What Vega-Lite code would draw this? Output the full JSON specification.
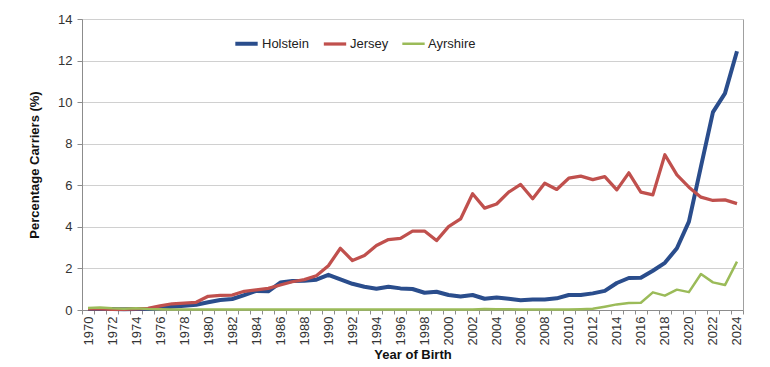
{
  "$schema": "https://vega.github.io/schema/vega-lite/v6.json",
  "autosize": "none",
  "width": 661,
  "height": 291,
  "padding": {"left": 82, "top": 19, "right": 27, "bottom": 57},
  "background": "white",
  "config": {
    "font": "Liberation Sans",
    "view": {"stroke": "#a0a0a0", "strokeWidth": 1},
    "axis": {"labelFont": "Liberation Sans", "titleFont": "Liberation Sans", "labelFontSize": 13, "titleFontSize": 13, "labelColor": "#333333", "titleColor": "#111111", "titleFontWeight": "bold", "domainColor": "#8c8c8c", "tickColor": "#8c8c8c"}
  },
  "data": {
    "values": [
      {"year": 1970, "Holstein": 0.05, "Jersey": 0.05, "Ayrshire": 0.10},
      {"year": 1971, "Holstein": 0.05, "Jersey": 0.05, "Ayrshire": 0.12},
      {"year": 1972, "Holstein": 0.05, "Jersey": 0.03, "Ayrshire": 0.08},
      {"year": 1973, "Holstein": 0.04, "Jersey": 0.03, "Ayrshire": 0.06},
      {"year": 1974, "Holstein": 0.05, "Jersey": 0.06, "Ayrshire": 0.08},
      {"year": 1975, "Holstein": 0.05, "Jersey": 0.08, "Ayrshire": 0.05},
      {"year": 1976, "Holstein": 0.08, "Jersey": 0.20, "Ayrshire": 0.04},
      {"year": 1977, "Holstein": 0.16, "Jersey": 0.30, "Ayrshire": 0.03},
      {"year": 1978, "Holstein": 0.20, "Jersey": 0.33, "Ayrshire": 0.03},
      {"year": 1979, "Holstein": 0.25, "Jersey": 0.37, "Ayrshire": 0.03},
      {"year": 1980, "Holstein": 0.37, "Jersey": 0.66, "Ayrshire": 0.03},
      {"year": 1981, "Holstein": 0.48, "Jersey": 0.70, "Ayrshire": 0.03},
      {"year": 1982, "Holstein": 0.53, "Jersey": 0.72, "Ayrshire": 0.03},
      {"year": 1983, "Holstein": 0.72, "Jersey": 0.90, "Ayrshire": 0.03},
      {"year": 1984, "Holstein": 0.92, "Jersey": 0.97, "Ayrshire": 0.03},
      {"year": 1985, "Holstein": 0.90, "Jersey": 1.04, "Ayrshire": 0.03},
      {"year": 1986, "Holstein": 1.32, "Jersey": 1.20, "Ayrshire": 0.02},
      {"year": 1987, "Holstein": 1.40, "Jersey": 1.36, "Ayrshire": 0.02},
      {"year": 1988, "Holstein": 1.41, "Jersey": 1.46, "Ayrshire": 0.02},
      {"year": 1989, "Holstein": 1.46, "Jersey": 1.65, "Ayrshire": 0.02},
      {"year": 1990, "Holstein": 1.69, "Jersey": 2.13, "Ayrshire": 0.02},
      {"year": 1991, "Holstein": 1.47, "Jersey": 2.97, "Ayrshire": 0.02},
      {"year": 1992, "Holstein": 1.26, "Jersey": 2.38, "Ayrshire": 0.02},
      {"year": 1993, "Holstein": 1.12, "Jersey": 2.62, "Ayrshire": 0.03},
      {"year": 1994, "Holstein": 1.02, "Jersey": 3.10, "Ayrshire": 0.03},
      {"year": 1995, "Holstein": 1.12, "Jersey": 3.39, "Ayrshire": 0.03},
      {"year": 1996, "Holstein": 1.04, "Jersey": 3.45, "Ayrshire": 0.02},
      {"year": 1997, "Holstein": 1.01, "Jersey": 3.79, "Ayrshire": 0.02},
      {"year": 1998, "Holstein": 0.83, "Jersey": 3.80, "Ayrshire": 0.02},
      {"year": 1999, "Holstein": 0.88, "Jersey": 3.34, "Ayrshire": 0.02},
      {"year": 2000, "Holstein": 0.72, "Jersey": 4.01, "Ayrshire": 0.02},
      {"year": 2001, "Holstein": 0.65, "Jersey": 4.38, "Ayrshire": 0.03},
      {"year": 2002, "Holstein": 0.72, "Jersey": 5.59, "Ayrshire": 0.03},
      {"year": 2003, "Holstein": 0.54, "Jersey": 4.90, "Ayrshire": 0.05},
      {"year": 2004, "Holstein": 0.60, "Jersey": 5.10, "Ayrshire": 0.04},
      {"year": 2005, "Holstein": 0.54, "Jersey": 5.67, "Ayrshire": 0.04},
      {"year": 2006, "Holstein": 0.47, "Jersey": 6.04, "Ayrshire": 0.03},
      {"year": 2007, "Holstein": 0.51, "Jersey": 5.35, "Ayrshire": 0.03},
      {"year": 2008, "Holstein": 0.51, "Jersey": 6.10, "Ayrshire": 0.03},
      {"year": 2009, "Holstein": 0.56, "Jersey": 5.80, "Ayrshire": 0.03},
      {"year": 2010, "Holstein": 0.72, "Jersey": 6.34, "Ayrshire": 0.03},
      {"year": 2011, "Holstein": 0.72, "Jersey": 6.44, "Ayrshire": 0.04},
      {"year": 2012, "Holstein": 0.80, "Jersey": 6.27, "Ayrshire": 0.06},
      {"year": 2013, "Holstein": 0.92, "Jersey": 6.42, "Ayrshire": 0.16},
      {"year": 2014, "Holstein": 1.30, "Jersey": 5.78, "Ayrshire": 0.27},
      {"year": 2015, "Holstein": 1.54, "Jersey": 6.60, "Ayrshire": 0.34},
      {"year": 2016, "Holstein": 1.55, "Jersey": 5.67, "Ayrshire": 0.35},
      {"year": 2017, "Holstein": 1.89, "Jersey": 5.54, "Ayrshire": 0.85},
      {"year": 2018, "Holstein": 2.27, "Jersey": 7.47, "Ayrshire": 0.69},
      {"year": 2019, "Holstein": 2.97, "Jersey": 6.50, "Ayrshire": 0.98},
      {"year": 2020, "Holstein": 4.25, "Jersey": 5.91, "Ayrshire": 0.86},
      {"year": 2021, "Holstein": 6.90, "Jersey": 5.43, "Ayrshire": 1.73},
      {"year": 2022, "Holstein": 9.52, "Jersey": 5.27, "Ayrshire": 1.33},
      {"year": 2023, "Holstein": 10.42, "Jersey": 5.30, "Ayrshire": 1.20},
      {"year": 2024, "Holstein": 12.45, "Jersey": 5.12, "Ayrshire": 2.33}
    ]
  },
  "transform": [
    {"fold": ["Holstein", "Jersey", "Ayrshire"], "as": ["breed", "pct"]}
  ],
  "mark": {"type": "line", "strokeJoin": "round"},
  "encoding": {
    "x": {
      "field": "year",
      "type": "ordinal",
      "scale": {"type": "band", "paddingInner": 0, "paddingOuter": 0},
      "axis": {
        "title": "Year of Birth",
        "labelAngle": -90,
        "labelOverlap": false,
        "labelExpr": "datum.value % 2 == 0 ? datum.label : ''",
        "tickBand": "extent",
        "tickSize": 4,
        "labelPadding": 2,
        "titlePadding": 4,
        "grid": false
      }
    },
    "y": {
      "field": "pct",
      "type": "quantitative",
      "scale": {"domain": [0, 14], "nice": false},
      "axis": {
        "title": "Percentage Carriers (%)",
        "values": [0, 2, 4, 6, 8, 10, 12, 14],
        "tickSize": 5,
        "labelPadding": 5,
        "titlePadding": 16,
        "grid": true,
        "gridColor": "#d0d0d0"
      }
    },
    "color": {
      "field": "breed",
      "type": "nominal",
      "scale": {"domain": ["Holstein", "Jersey", "Ayrshire"], "range": ["#2a4d8c", "#c0504d", "#9bbb59"]},
      "legend": {
        "title": null,
        "orient": "none",
        "direction": "horizontal",
        "legendX": 151,
        "legendY": 11,
        "symbolType": "stroke",
        "symbolSize": 500,
        "labelFontSize": 13,
        "labelColor": "#222222",
        "labelOffset": 2,
        "columnPadding": 8
      }
    },
    "strokeWidth": {
      "field": "breed",
      "type": "nominal",
      "scale": {"domain": ["Holstein", "Jersey", "Ayrshire"], "range": [4, 2.5, 2.5]},
      "legend": null
    }
  }
}
